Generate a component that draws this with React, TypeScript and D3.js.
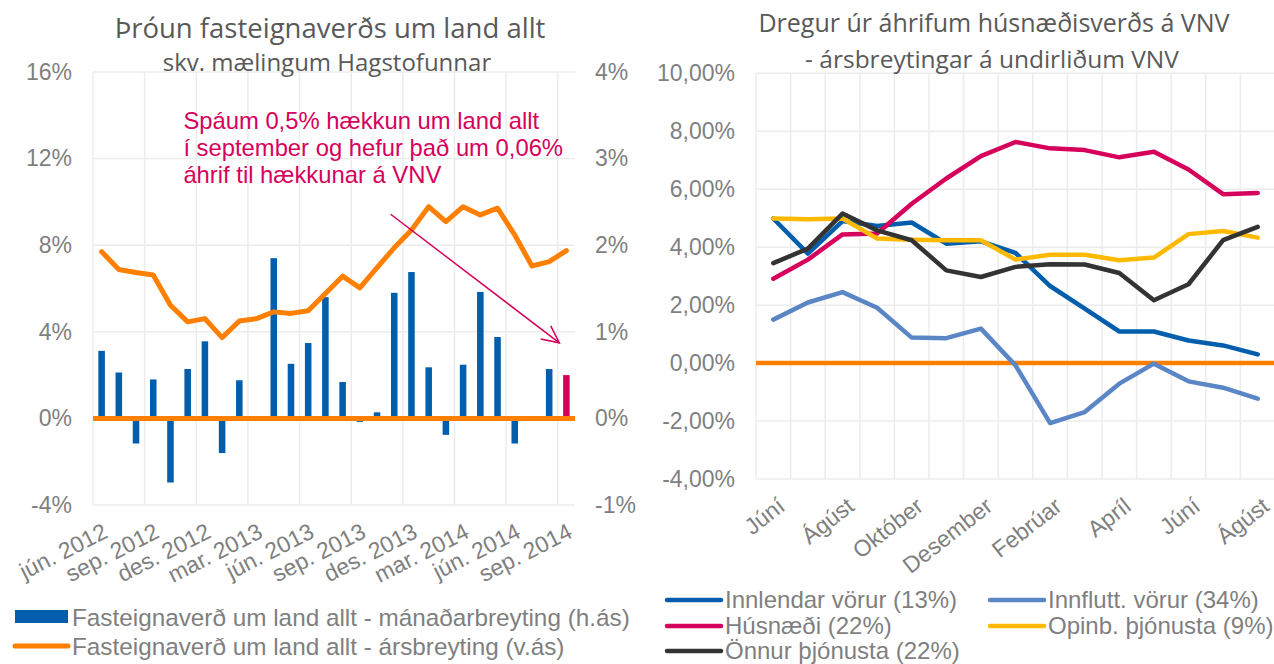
import React, { useEffect, useRef } from "react";
import * as d3 from "d3";

// Vinstri mynd: fasteignaverð
const leftMonths = [
  "jún. 2012", "júl. 2012", "ágú. 2012", "sep. 2012", "okt. 2012", "nóv. 2012", "des. 2012",
  "jan. 2013", "feb. 2013", "mar. 2013", "apr. 2013", "maí 2013", "jún. 2013", "júl. 2013",
  "ágú. 2013", "sep. 2013", "okt. 2013", "nóv. 2013", "des. 2013", "jan. 2014", "feb. 2014",
  "mar. 2014", "apr. 2014", "maí 2014", "jún. 2014", "júl. 2014", "ágú. 2014", "sep. 2014",
];
// mánaðarbreyting (hægri ás, %)
const monthlyChange = [
  0.78, 0.53, -0.29, 0.45, -0.74, 0.57, 0.89, -0.40, 0.44, 0.01, 1.85, 0.63, 0.87, 1.40,
  0.42, -0.04, 0.07, 1.45, 1.69, 0.59, -0.19, 0.62, 1.46, 0.94, -0.29, 0.02, 0.57, 0.50,
];
// ársbreyting (vinstri ás, %)
const yearlyChange = [
  7.70, 6.88, 6.74, 6.62, 5.23, 4.46, 4.61, 3.73, 4.50, 4.61, 4.92, 4.85, 4.97, 5.77,
  6.57, 6.03, 6.96, 7.88, 8.70, 9.78, 9.09, 9.78, 9.40, 9.71, 8.47, 7.04, 7.24, 7.75,
];
const leftLabelIdx = [0, 3, 6, 9, 12, 15, 18, 21, 24, 27];
const leftAxisTicks = [-4, 0, 4, 8, 12, 16];
const rightAxisTicks = [-1, 0, 1, 2, 3, 4];
const annotationLines = [
  "Spáum 0,5% hækkun um land allt",
  "í september og hefur það um 0,06%",
  "áhrif til hækkunar á VNV",
];

// Hægri mynd: undirliðir VNV
const rightMonths = [
  "Júní", "Júlí", "Ágúst", "September", "Október", "Nóvember", "Desember", "Janúar",
  "Febrúar", "Mars", "Apríl", "Maí", "Júní", "Júlí", "Ágúst",
];
const innlendar = [4.99, 3.78, 4.90, 4.73, 4.85, 4.12, 4.20, 3.80, 2.66, 1.88, 1.09, 1.09, 0.78, 0.61, 0.30];
const innflutt = [1.50, 2.09, 2.45, 1.91, 0.88, 0.86, 1.19, -0.08, -2.07, -1.69, -0.71, -0.02, -0.63, -0.85, -1.23];
const husnaedi = [2.91, 3.57, 4.44, 4.47, 5.50, 6.37, 7.14, 7.63, 7.41, 7.35, 7.10, 7.29, 6.68, 5.83, 5.87];
const opinb = [4.99, 4.96, 4.99, 4.30, 4.26, 4.24, 4.24, 3.57, 3.74, 3.74, 3.55, 3.64, 4.45, 4.56, 4.33];
const onnur = [3.45, 3.95, 5.16, 4.58, 4.24, 3.20, 2.97, 3.32, 3.41, 3.40, 3.11, 2.17, 2.72, 4.24, 4.70];
const vnvTicks = [-4, -2, 0, 2, 4, 6, 8, 10];
const vnvLabelIdx = [0, 2, 4, 6, 8, 10, 12, 14];

const BLUE = "#005eac";
const ORANGE = "#ff7f00";
const MAGENTA = "#d6005c";
const GRID = "#ececec";
const TEXT = "#7f7f7f";
const TITLE = "#595959";

const series = [
  { name: "Innlendar vörur (13%)", values: innlendar, color: BLUE, col: 0, row: 0 },
  { name: "Innflutt. vörur (34%)", values: innflutt, color: "#5b86c6", col: 1, row: 0 },
  { name: "Húsnæði (22%)", values: husnaedi, color: MAGENTA, col: 0, row: 1 },
  { name: "Opinb. þjónusta (9%)", values: opinb, color: "#ffb900", col: 1, row: 1 },
  { name: "Önnur þjónusta (22%)", values: onnur, color: "#333333", col: 0, row: 2 },
];

export default function App() {
  const svgRef = useRef<SVGSVGElement>(null);

  useEffect(() => {
    if (!svgRef.current) return;
    const svg = d3.select(svgRef.current);
    svg.selectAll("*").remove();

    const font = "'Liberation Sans', Arial, sans-serif";
    const titleFont = "'Open Sans', sans-serif";

    // ---------- Left chart ----------
    const L = { left: 93, right: 575, top: 72, bottom: 505 };
    const xL = d3.scaleBand<string>()
      .domain(leftMonths)
      .range([L.left, L.right])
      .paddingInner(0.62)
      .paddingOuter(0.31);
    const xIdx = d3.scaleLinear().domain([0, leftMonths.length]).range([L.left, L.right]);
    const yLeft = d3.scaleLinear().domain([-4, 16]).range([L.bottom, L.top]);
    const yRight = d3.scaleLinear().domain([-1, 4]).range([L.bottom, L.top]);
    const cx = (m: string) => (xL(m) ?? 0) + xL.bandwidth() / 2;

    const gl = svg.append("g");

    // gridlines
    gl.selectAll(".hgrid")
      .data(leftAxisTicks)
      .enter()
      .append("line")
      .attr("x1", L.left)
      .attr("x2", L.right)
      .attr("y1", d => yLeft(d))
      .attr("y2", d => yLeft(d))
      .attr("stroke", GRID)
      .attr("stroke-width", 1.5);
    gl.selectAll(".vgrid")
      .data(leftLabelIdx)
      .enter()
      .append("line")
      .attr("x1", d => xIdx(d))
      .attr("x2", d => xIdx(d))
      .attr("y1", L.top)
      .attr("y2", L.bottom)
      .attr("stroke", GRID)
      .attr("stroke-width", 1.5);

    // bars (monthly, right axis)
    gl.selectAll(".bar")
      .data(monthlyChange)
      .enter()
      .append("rect")
      .attr("x", (d, i) => xL(leftMonths[i]) ?? 0)
      .attr("width", xL.bandwidth())
      .attr("y", d => Math.min(yRight(d), yRight(0)))
      .attr("height", d => Math.abs(yRight(d) - yRight(0)))
      .attr("fill", (d, i) => (i === monthlyChange.length - 1 ? MAGENTA : BLUE));

    // zero line
    gl.append("line")
      .attr("x1", L.left)
      .attr("x2", L.right)
      .attr("y1", yLeft(0))
      .attr("y2", yLeft(0))
      .attr("stroke", ORANGE)
      .attr("stroke-width", 5);

    // yearly line
    const lineL = d3.line<number>()
      .x((d, i) => cx(leftMonths[i]))
      .y(d => yLeft(d));
    gl.append("path")
      .datum(yearlyChange)
      .attr("d", lineL)
      .attr("fill", "none")
      .attr("stroke", ORANGE)
      .attr("stroke-width", 5)
      .attr("stroke-linejoin", "round")
      .attr("stroke-linecap", "round");

    // axes
    gl.append("g")
      .attr("transform", `translate(${L.left},0)`)
      .call(d3.axisLeft(yLeft).tickValues(leftAxisTicks).tickSize(0).tickPadding(21).tickFormat(d => `${d}%`))
      .call(g => g.select(".domain").remove())
      .call(g => g.selectAll(".tick text").attr("fill", TEXT).style("font-size", "23px").style("font-family", font));
    gl.append("g")
      .attr("transform", `translate(${L.right},0)`)
      .call(d3.axisRight(yRight).tickValues(rightAxisTicks).tickSize(0).tickPadding(20).tickFormat(d => `${d}%`))
      .call(g => g.select(".domain").remove())
      .call(g => g.selectAll(".tick text").attr("fill", TEXT).style("font-size", "23px").style("font-family", font));

    gl.selectAll(".xlab")
      .data(leftLabelIdx)
      .enter()
      .append("text")
      .attr("transform", d => `translate(${cx(leftMonths[d])},${L.bottom + 17}) rotate(-27)`)
      .attr("text-anchor", "end")
      .attr("dy", "0.72em")
      .attr("fill", TEXT)
      .style("font-size", "23px")
      .style("font-family", font)
      .text(d => leftMonths[d]);

    // annotation
    gl.selectAll(".ann")
      .data(annotationLines)
      .enter()
      .append("text")
      .attr("x", xIdx(5.25))
      .attr("y", (d, i) => yLeft(13.35) + i * 27)
      .attr("fill", MAGENTA)
      .style("font-size", "23.8px")
      .style("font-family", font)
      .text(d => d);

    const a0 = [xIdx(17.29), yLeft(9.43)];
    const a1 = [xIdx(27.09), yLeft(3.49)];
    gl.append("line")
      .attr("x1", a0[0]).attr("y1", a0[1])
      .attr("x2", a1[0]).attr("y2", a1[1])
      .attr("stroke", MAGENTA)
      .attr("stroke-width", 1.5);
    const ang = Math.atan2(a1[1] - a0[1], a1[0] - a0[0]);
    const head = [ang + Math.PI - 0.45, ang + Math.PI + 0.45].map(t => [a1[0] + 19 * Math.cos(t), a1[1] + 19 * Math.sin(t)]);
    gl.append("path")
      .attr("d", `M${head[0][0]},${head[0][1]}L${a1[0]},${a1[1]}L${head[1][0]},${head[1][1]}`)
      .attr("fill", "none")
      .attr("stroke", MAGENTA)
      .attr("stroke-width", 1.5);

    // titles
    gl.append("text")
      .attr("x", 330).attr("y", 38)
      .attr("text-anchor", "middle")
      .attr("fill", TITLE)
      .style("font-size", "27.5px")
      .style("font-family", titleFont)
      .text("Þróun fasteignaverðs um land allt");
    gl.append("text")
      .attr("x", 327).attr("y", 71)
      .attr("text-anchor", "middle")
      .attr("fill", TITLE)
      .style("font-size", "24px")
      .style("font-family", titleFont)
      .text("skv. mælingum Hagstofunnar");

    // legend
    const legL = gl.append("g").style("font-family", font).style("font-size", "24.3px");
    legL.append("rect").attr("x", 15).attr("y", 610).attr("width", 53).attr("height", 13).attr("fill", BLUE);
    legL.append("text").attr("x", 72).attr("y", 617).attr("dy", "0.35em").attr("fill", TEXT)
      .text("Fasteignaverð um land allt - mánaðarbreyting (h.ás)");
    legL.append("line").attr("x1", 15).attr("x2", 68).attr("y1", 646).attr("y2", 646)
      .attr("stroke", ORANGE).attr("stroke-width", 5).attr("stroke-linecap", "round");
    legL.append("text").attr("x", 72).attr("y", 646).attr("dy", "0.35em").attr("fill", TEXT)
      .text("Fasteignaverð um land allt - ársbreyting (v.ás)");

    // ---------- Right chart ----------
    const R = { left: 756, right: 1275, top: 73.3, bottom: 479 };
    const idx = rightMonths.map((d, i) => i);
    const xR = d3.scaleBand<number>().domain(idx).range([R.left, R.right]);
    const yV = d3.scaleLinear().domain([-4, 10]).range([R.bottom, R.top]);
    const rcx = (i: number) => (xR(i) ?? 0) + xR.bandwidth() / 2;

    const gr = svg.append("g");
    gr.selectAll(".hgrid")
      .data(vnvTicks)
      .enter()
      .append("line")
      .attr("x1", R.left)
      .attr("x2", R.right)
      .attr("y1", d => yV(d))
      .attr("y2", d => yV(d))
      .attr("stroke", GRID)
      .attr("stroke-width", 1.5);
    gr.selectAll(".vgrid")
      .data(idx)
      .enter()
      .append("line")
      .attr("x1", d => xR(d) ?? 0)
      .attr("x2", d => xR(d) ?? 0)
      .attr("y1", R.top)
      .attr("y2", R.bottom)
      .attr("stroke", GRID)
      .attr("stroke-width", 1.5);

    gr.append("line")
      .attr("x1", R.left)
      .attr("x2", R.right)
      .attr("y1", yV(0))
      .attr("y2", yV(0))
      .attr("stroke", ORANGE)
      .attr("stroke-width", 4.5);

    const lineR = d3.line<number>()
      .x((d, i) => rcx(i))
      .y(d => yV(d));
    gr.selectAll(".series")
      .data(series)
      .enter()
      .append("path")
      .attr("d", d => lineR(d.values))
      .attr("fill", "none")
      .attr("stroke", d => d.color)
      .attr("stroke-width", 4.5)
      .attr("stroke-linejoin", "round")
      .attr("stroke-linecap", "round");

    gr.append("g")
      .attr("transform", `translate(${R.left},0)`)
      .call(d3.axisLeft(yV).tickValues(vnvTicks).tickSize(0).tickPadding(21)
        .tickFormat(d => `${(d as number).toFixed(2).replace(".", ",")}%`))
      .call(g => g.select(".domain").remove())
      .call(g => g.selectAll(".tick text").attr("fill", TEXT).style("font-size", "23px").style("font-family", font));

    gr.selectAll(".xlab")
      .data(vnvLabelIdx)
      .enter()
      .append("text")
      .attr("transform", d => `translate(${rcx(d) + 3},${R.bottom + 17}) rotate(-38)`)
      .attr("text-anchor", "end")
      .attr("dy", "0.72em")
      .attr("fill", TEXT)
      .style("font-size", "23px")
      .style("font-family", font)
      .text(d => rightMonths[d]);

    gr.append("text")
      .attr("x", 994).attr("y", 32)
      .attr("text-anchor", "middle")
      .attr("fill", TITLE)
      .style("font-size", "25px")
      .style("font-family", titleFont)
      .text("Dregur úr áhrifum húsnæðisverðs á VNV");
    gr.append("text")
      .attr("x", 992).attr("y", 68)
      .attr("text-anchor", "middle")
      .attr("fill", TITLE)
      .style("font-size", "24.5px")
      .style("font-family", titleFont)
      .text("- ársbreytingar á undirliðum VNV");

    const legR = gr.append("g").style("font-family", font).style("font-size", "24px");
    const colX = [667, 990];
    const rowY = [600, 626, 651];
    const item = legR.selectAll(".leg")
      .data(series)
      .enter()
      .append("g")
      .attr("transform", d => `translate(${colX[d.col]},${rowY[d.row]})`);
    item.append("line")
      .attr("x1", 0).attr("x2", 54)
      .attr("stroke", d => d.color)
      .attr("stroke-width", 4.5)
      .attr("stroke-linecap", "round");
    item.append("text")
      .attr("x", 58)
      .attr("dy", "0.35em")
      .attr("fill", TEXT)
      .text(d => d.name);
  }, []);

  return (
    <svg
      ref={svgRef}
      width={1274}
      height={664}
      style={{ position: "absolute", left: 0, top: 0, background: "#ffffff" }}
    />
  );
}
